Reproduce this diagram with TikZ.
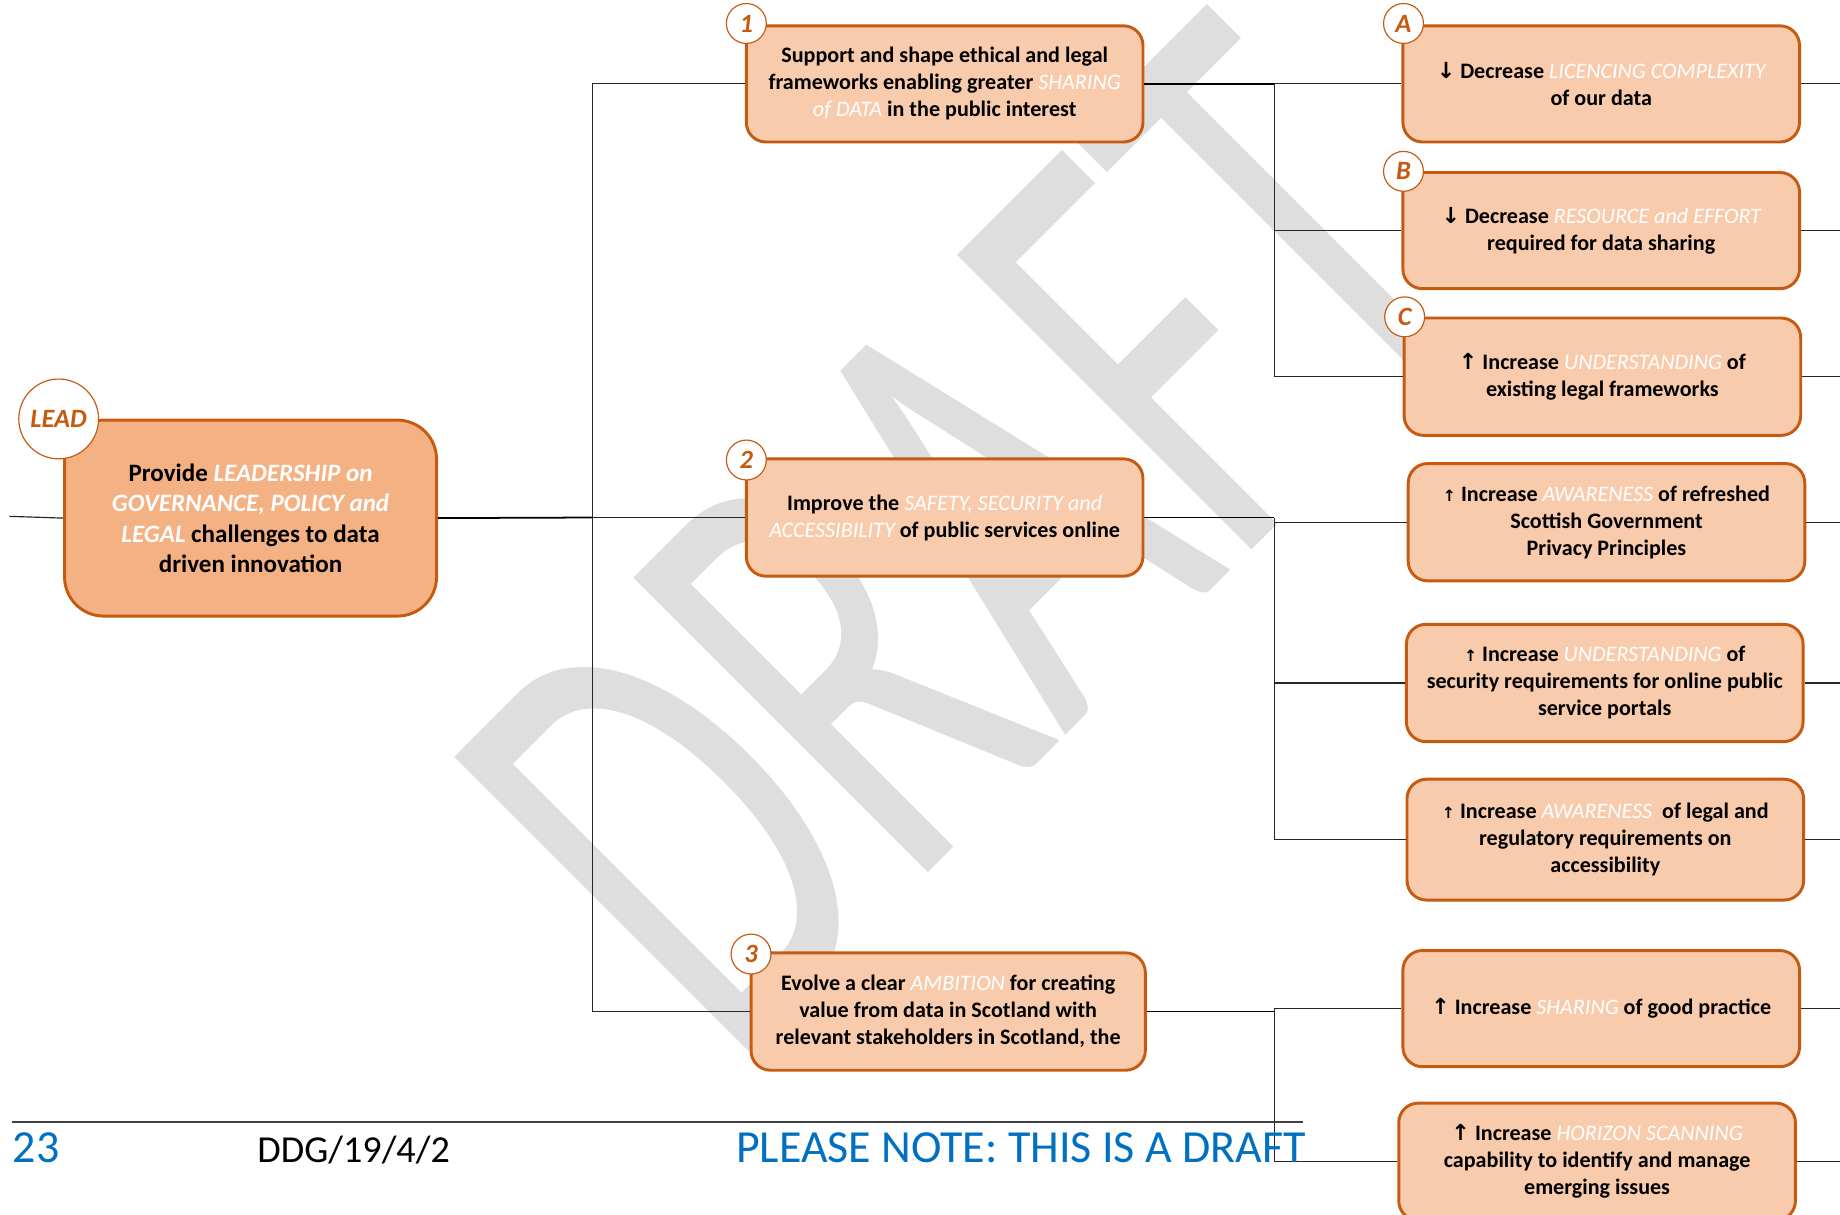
\documentclass[tikz,border=0pt]{standalone}
\usepackage{fontspec}
\usepackage{graphicx}
\setmainfont{Carlito}
\newfontfamily\arrfont{DejaVu Sans}
\definecolor{orb}{HTML}{C55A11}
\definecolor{peach}{HTML}{F8CBAD}
\definecolor{leadfill}{HTML}{F4B183}
\definecolor{docblue}{HTML}{0070C0}
\definecolor{wmgray}{RGB}{222,222,222}
\newcommand\hl[1]{{\color{white}\itshape\mdseries #1}}
\newcommand\hlb[1]{{\color{white}\itshape #1}}
\newcommand\upar{{\arrfont\bfseries ↑}}
\newcommand\dnar{{\arrfont\bfseries ↓}}
\newcommand\smup{{\arrfont\fontsize{8}{8}\selectfont ↑}}
\begin{document}
\begin{tikzpicture}[x=0.6pt,y=-0.6pt,
  box/.style={draw=orb, line width=1.5pt, fill=peach, rounded corners=10pt,
    minimum width=202.8pt, minimum height=59.4pt, align=center, inner sep=0pt,
    font=\bfseries\fontsize{11.3}{13.8}\selectfont},
  leadbox/.style={box, fill=leadfill, rounded corners=20pt, minimum width=190.2pt,
    minimum height=100.2pt, font=\bfseries\fontsize{12.8}{15.6}\selectfont},
  badge/.style={circle, draw=orb, line width=0.6pt, fill=white, minimum size=20.4pt,
    inner sep=0pt, text=orb, font=\bfseries\itshape\fontsize{13.5}{13.5}\selectfont},
  bigbadge/.style={badge, minimum size=40.8pt},
  conn/.style={draw=black!85, line width=0.6pt},
  thickconn/.style={draw=black, line width=0.9pt},
  footline/.style={draw=black!75, line width=1.2pt},
  wm/.style={text=wmgray, inner sep=0pt, font=\fontsize{332}{332}\selectfont},
  foot/.style={inner sep=0pt, anchor=base west}
]
\useasboundingbox (0,0) rectangle (1568,1035);
\clip (0,0) rectangle (1568,1035);

% watermark
\node[wm, rotate=45, anchor=base west] (wm) at (621.6,913.4) {\scalebox{0.63}[1]{DRAFT}};

% nodes
\node[leadbox] (lead) at (213.5,441.5) {Provide \hlb{LEADERSHIP on}\\\hlb{GOVERNANCE, POLICY and}\\\hlb{LEGAL} challenges to data\\driven innovation};
\node[bigbadge] (leadb) at (50,357) {LEAD};

\node[box] (m1) at (805,71.5) {Support and shape ethical and legal\\frameworks enabling greater \hl{SHARING}\\\hl{of DATA} in the public interest};
\node[box, minimum height=60pt] (m2) at (805,441) {Improve the \hl{SAFETY, SECURITY and}\\\hl{ACCESSIBILITY} of public services online};
\node[box, minimum width=201.6pt, minimum height=60pt] (m3) at (808,862) {Evolve a clear \hl{AMBITION} for creating\\value from data in Scotland with\\relevant stakeholders in Scotland, the};
\node[badge] (m1b) at (636,20) {1};
\node[badge] (m2b) at (636,392) {2};
\node[badge] (m3b) at (640,813) {3};

\node[box] (ra) at (1364.5,71.5) {\dnar{} Decrease \hl{LICENCING COMPLEXITY}\\of our data};
\node[box] (rb) at (1364.5,196.5) {\dnar{} Decrease \hl{RESOURCE and EFFORT}\\required for data sharing};
\node[box, minimum height=60pt] (rc) at (1365.5,321) {\upar{} Increase \hl{UNDERSTANDING} of\\existing legal frameworks};
\node[box, minimum height=60pt] (rd) at (1369,445) {\smup{} Increase \hl{AWARENESS} of refreshed\\Scottish Government\\Privacy Principles};
\node[box, minimum height=60pt] (re) at (1367.5,582) {\smup{} Increase \hl{UNDERSTANDING} of\\security requirements for online public\\service portals};
\node[box, minimum height=61.8pt] (rf) at (1368,715.5) {\smup{} Increase \hl{AWARENESS}\ \ of\ legal and\\regulatory requirements on\\accessibility};
\node[box] (rg) at (1364.5,859.5) {\upar{} Increase \hl{SHARING} of good practice};
\node[box, minimum height=60pt] (rh) at (1361,990) {\upar{} Increase \hl{HORIZON SCANNING}\\capability to identify and manage\\emerging issues};
\node[badge] (rab) at (1196,20) {A};
\node[badge] (rbb) at (1196,146) {B};
\node[badge] (rcb) at (1197,270) {C};

% junctions
\coordinate (lin) at (8,440);
\coordinate (jl) at (505,441);
\coordinate (j1) at (1086,71.5);
\coordinate (j2) at (1086,441);
\coordinate (j3) at (1086,862);
\coordinate (xr) at (1568,0);

% connectors
\draw[conn] (lin) -- (lead.west);
\draw[thickconn] (lead.east) -- (jl);
\draw[conn] (m1.west) -| (jl);
\draw[conn] (m2.west) -- (jl);
\draw[conn] (m3.west) -| (jl);

\draw[thickconn] (m1.east) -- (j1);
\draw[conn] (j1) -- (ra.west);
\draw[conn] (rb.west) -| (j1);
\draw[conn] (rc.west) -| (j1);

\draw[thickconn] (m2.east) -- (j2);
\draw[conn] (rd.west) -| (j2);
\draw[conn] (re.west) -| (j2);
\draw[conn] (rf.west) -| (j2);

\draw[thickconn] (m3.east) -- (j3);
\draw[conn] (rg.west) -| (j3);
\draw[conn] (rh.west) -| (j3);

\foreach \b in {ra,rb,rc,rd,re,rf,rg,rh}
  \draw[conn] (\b.east) -- (\b.east -| xr);

% footer
\coordinate (fl) at (10,956);
\coordinate (fr) at (1110,956);
\draw[footline] (fl) -- (fr);
\node[foot, text=docblue, font=\fontsize{23.5}{23.5}\selectfont] (pg) at (10.7,991) {23};
\node[foot, font=\fontsize{19.5}{19.5}\selectfont] (ref) at (219,991) {DDG/19/4/2};
\node[foot, text=docblue, font=\fontsize{23.5}{23.5}\selectfont] (note) at (627,991) {PLEASE NOTE: THIS IS A DRAFT};
\end{tikzpicture}
\end{document}
